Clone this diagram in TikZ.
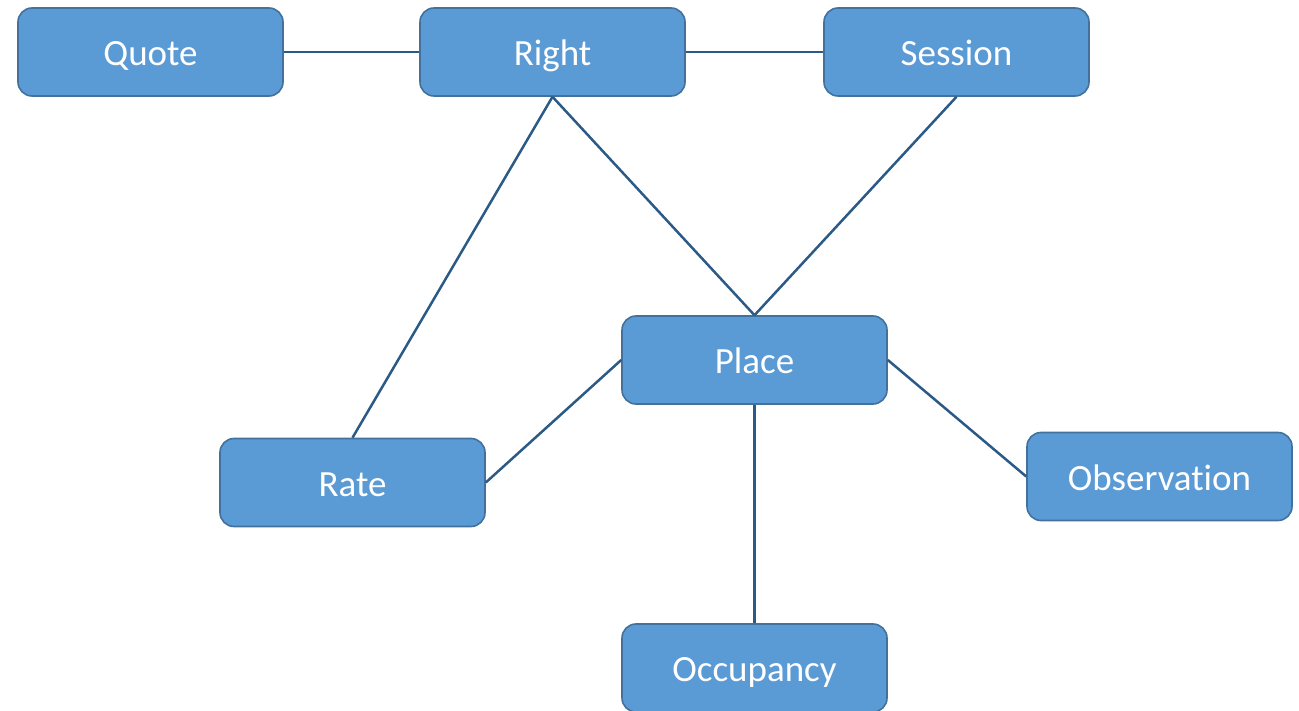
\documentclass[tikz,border=0pt]{standalone}
\usepackage{fontspec}
\setmainfont[Ligatures={NoCommon}]{Carlito}
\begin{document}
\begin{tikzpicture}[x=1pt,y=-1pt,
  ent/.style={draw=boxedge, fill=boxfill, line width=1.6pt, rounded corners=14pt,
    minimum width=265pt, minimum height=88pt, inner sep=0pt, text=white,
    text height=31pt, text depth=4pt,
    font=\fontsize{37}{40}\selectfont},
  link/.style={draw=linkc, line width=2.5pt}]
\definecolor{boxfill}{HTML}{5B9BD5}
\definecolor{boxedge}{HTML}{41719C}
\definecolor{linkc}{HTML}{2B5A86}
\useasboundingbox (0,0) rectangle (1299,711);
\node[ent] (quote) at (150.5,52) {Quote};
\node[ent] (right) at (552.5,52) {Right};
\node[ent] (session) at (956.5,52) {Session};
\node[ent] (place) at (754.5,360) {Place};
\node[ent] (rate) at (352.5,482.5) {Rate};
\node[ent] (obs) at (1159.5,476.5) {Observation};
\node[ent] (occ) at (754.5,668) {Occupancy};
\draw[link] (quote.east) -- (right.west);
\draw[link] (right.east) -- (session.west);
\draw[link] (right.south) -- (place.north);
\draw[link] (right.south) -- (rate.north);
\draw[link] (session.south) -- (place.north);
\draw[link] (place.west) -- (rate.east);
\draw[link] (place.east) -- (obs.west);
\draw[link] (place.south) -- (occ.north);
\end{tikzpicture}
\end{document}
